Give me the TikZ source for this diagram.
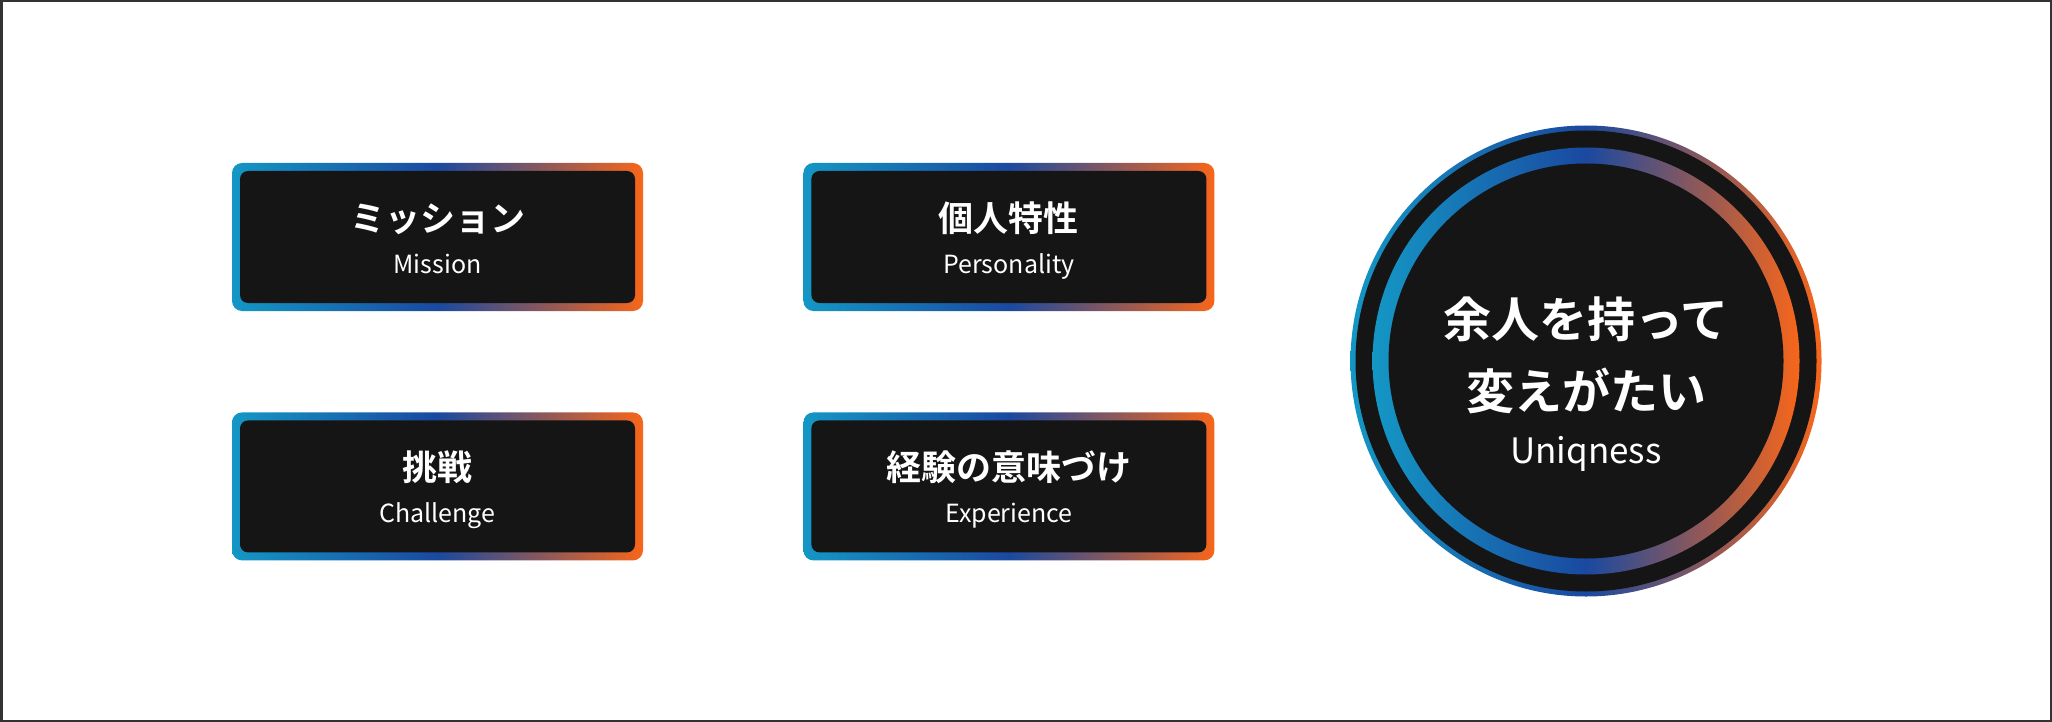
\documentclass[tikz,border=0pt]{standalone}
\usepackage{fontspec}
\setmainfont{Noto Sans CJK JP}
\newfontfamily\jpbold{Noto Sans CJK JP Bold}
\usetikzlibrary{positioning}

\definecolor{gcyan}{HTML}{1497C5}
\definecolor{gblue}{HTML}{1A49A0}
\definecolor{gorange}{HTML}{F7661A}
\definecolor{cardfill}{HTML}{151515}
\definecolor{edgegray}{HTML}{333333}

\tikzset{
  grad/.style={left color=gcyan, right color=gorange, middle color=gblue},
  frame/.style={grad, rounded corners=10pt, minimum width=411pt, minimum height=148pt, inner sep=0pt},
  card/.style={fill=cardfill, rounded corners=8pt, minimum width=395pt, minimum height=132pt, inner sep=0pt},
  title/.style={text=white, anchor=base, inner sep=0pt, font=\jpbold\fontsize{35pt}{35pt}\selectfont},
  sub/.style={text=white, anchor=base, inner sep=0pt, font=\fontsize{25pt}{25pt}\selectfont},
}

\begin{document}
\begin{tikzpicture}[x=1pt, y=-1pt]
\useasboundingbox (0,0) rectangle (2052,722);
\draw[edgegray, line width=2.5pt] (1.25,1.25) rectangle (2050.75,720.75);

% four cards
\node (mission) [frame] at (437.5,237) {};
\node (persona) [frame, right=160pt of mission] {};
\node (challenge) [frame, below=101pt of mission] {};
\node (experience) [frame, below=101pt of persona] {};

\foreach \c in {mission,persona,challenge,experience}
  \node (\c card) [card] at (\c) {};

\node (missionjp) [title] at ([yshift=6pt]mission.center) {ミッション};
\node (missionen) [sub] at ([yshift=-36pt]mission.center) {Mission};
\node (personajp) [title] at ([yshift=6pt]persona.center) {個人特性};
\node (personaen) [sub] at ([yshift=-36pt]persona.center) {Personality};
\node (challengejp) [title] at ([yshift=6pt]challenge.center) {挑戦};
\node (challengeen) [sub] at ([yshift=-36pt]challenge.center) {Challenge};
\node (experiencejp) [title] at ([yshift=6pt]experience.center) {経験の意味づけ};
\node (experienceen) [sub] at ([yshift=-36pt]experience.center) {Experience};

% uniqueness circle
\node (core) [circle, grad, minimum size=471pt, inner sep=0pt] at (1586,361) {};
\node (corefill) [circle, fill=cardfill, minimum size=461pt, inner sep=0pt] at (core) {};
\node (ring) [circle, grad, minimum size=427pt, inner sep=0pt] at (core) {};
\node (ringfill) [circle, fill=cardfill, minimum size=395pt, inner sep=0pt] at (core) {};

\node (coreline1) [title, font=\jpbold\fontsize{48pt}{48pt}\selectfont] at ([yshift=24pt]core.center) {余人を持って};
\node (coreline2) [title, font=\jpbold\fontsize{48pt}{48pt}\selectfont] at ([yshift=-48pt]core.center) {変えがたい};
\node (coreen) [sub, font=\fontsize{35pt}{35pt}\selectfont] at ([yshift=-102pt]core.center) {Uniqness};
\end{tikzpicture}
\end{document}
